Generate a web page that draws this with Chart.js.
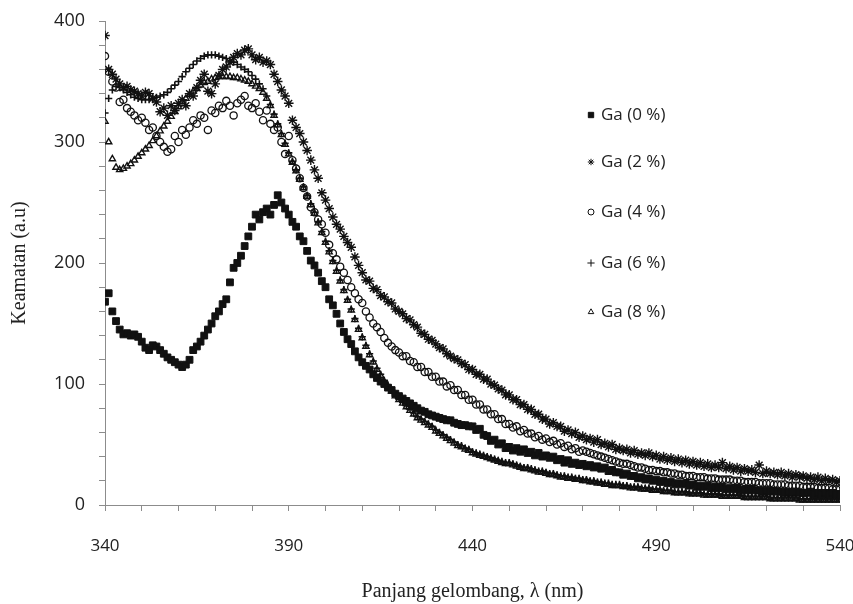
<!DOCTYPE html>
<html>
<head>
<meta charset="utf-8">
<title>Keamatan vs Panjang gelombang</title>
<script src="https://cdn.jsdelivr.net/npm/chart.js@4.4.1/dist/chart.umd.min.js"></script>
<style>
    html, body { margin: 0; padding: 0; background: #ffffff; }
    #wrap { width: 853px; height: 604px; }
</style>
</head>
<body>
<div id="wrap"><canvas id="spectrumChart" width="853" height="604"></canvas></div>
<script>
// wavelength grid (nm)
const wavelengths = [
    340,341,342,343,344,345,346,347,348,349,350,351,352,353,354,355,356,357,358,359,
    360,361,362,363,364,365,366,367,368,369,370,371,372,373,374,375,376,377,378,379,
    380,381,382,383,384,385,386,387,388,389,390,391,392,393,394,395,396,397,398,399,
    400,401,402,403,404,405,406,407,408,409,410,411,412,413,414,415,416,417,418,419,
    420,421,422,423,424,425,426,427,428,429,430,431,432,433,434,435,436,437,438,439,
    440,441,442,443,444,445,446,447,448,449,450,451,452,453,454,455,456,457,458,459,
    460,461,462,463,464,465,466,467,468,469,470,471,472,473,474,475,476,477,478,479,
    480,481,482,483,484,485,486,487,488,489,490,491,492,493,494,495,496,497,498,499,
    500,501,502,503,504,505,506,507,508,509,510,511,512,513,514,515,516,517,518,519,
    520,521,522,523,524,525,526,527,528,529,530,531,532,533,534,535,536,537,538,539,
    540
];

const ga0 = [
    168,175,160,152,145,141,142,140,141,139, 135,130,128,132,131,128,125,122,120,118,
    116,114,116,120,128,131,135,140,145,150, 156,160,166,170,184,196,200,206,214,222,
    230,240,236,242,245,240,248,256,250,245, 240,234,230,222,218,210,202,198,192,185,
    180,170,165,158,150,143,137,133,127,122, 118,115,112,108,105,102,100,97,95,92,
    90,88,86,84,82,80,78,77,75,74, 73,72,71,70,70,68,67,66,66,65,
    65,62,63,58,57,53,54,50,51,47, 48,45,47,44,46,43,44,41,43,40,
    41,39,40,37,38,35,37,34,35,33, 34,32,33,31,32,30,31,28,29,27,
    27,25,26,24,24,22,23,21,22,20, 21,19,20,18,19,17,18,17,18,16,
    17,15,16,15,16,14,15,14,15,13, 14,13,14,12,13,12,13,12,12,11,
    12,11,12,11,11,10,11,10,11,10, 10,10,11,9,10,9,10,9,10,9,
    9
];

const ga2 = [
    388,360,356,352,348,345,346,343,342,340, 338,341,340,336,333,325,328,322,330,326,
    332,335,330,340,338,345,351,356,342,340, 348,355,360,362,366,370,373,372,376,377,
    372,368,370,366,367,364,356,350,343,338, 332,318,312,307,300,293,285,277,270,258,
    252,245,238,232,228,222,217,213,205,198, 192,186,185,179,178,173,172,168,167,162,
    160,158,154,153,149,147,142,141,137,136, 133,130,129,125,123,121,120,117,116,112,
    112,108,108,104,104,100,99,96,95,91, 91,87,87,83,83,79,79,75,75,71,
    71,67,68,65,65,61,62,59,60,56, 57,54,55,52,54,50,51,48,50,46,
    47,45,46,43,45,42,43,41,43,40, 41,38,40,37,39,36,38,35,37,34,
    36,33,35,32,34,31,33,31,35,30, 32,29,31,28,30,28,29,27,33,26,
    28,26,27,25,27,24,26,23,25,23, 24,22,23,21,23,20,22,20,21,19,
    20
];

const ga4 = [
    371,358,350,345,333,335,328,325,322,318, 320,316,310,312,305,300,296,292,294,305,
    300,310,306,312,318,315,322,320,310,326, 324,330,328,334,330,322,332,335,338,330,
    328,332,325,318,326,315,310,312,300,290, 305,285,278,270,262,255,246,242,236,232,
    225,215,208,203,197,192,186,180,175,170, 167,160,155,150,147,143,138,134,131,128,
    126,123,123,119,118,114,114,110,110,106, 106,102,102,98,99,95,95,91,91,87,
    87,83,83,79,79,75,75,71,71,67, 67,64,65,61,62,59,59,56,57,54,
    55,52,53,50,51,48,49,46,47,44, 45,44,43,42,41,40,39,38,37,36,
    35,34,34,33,32,31,31,30,29,29, 28,28,27,27,26,26,25,25,24,24,
    24,23,23,23,22,22,22,21,21,21, 21,20,20,20,19,19,19,19,18,18,
    18,18,17,17,17,17,16,16,16,16, 15,15,15,15,14,14,14,14,13,13,
    13
];

const ga6 = [
    324,336,343,346,345,343,341,339,337,336, 335,335,335,336,337,338,339,341,344,347,
    350,354,358,361,364,367,369,371,372,372, 372,371,370,369,367,366,364,362,360,358,
    355,352,348,344,338,331,323,315,307,299, 291,284,277,270,263,256,249,242,234,226,
    218,210,202,194,186,178,170,162,154,146, 139,132,125,119,113,108,103,99,95,91,
    88,85,82,79,76,73,71,69,67,65, 62,60,58,56,54,52,50,49,47,46,
    44,43,42,41,40,39,38,37,36,35, 35,34,33,32,31,31,30,29,28,28,
    27,26,26,25,24,24,23,23,22,22, 21,21,20,20,19,19,18,18,17,17,
    17,16,16,15,15,15,14,14,14,13, 13,13,12,12,12,11,11,11,11,10,
    10,10,10,9,9,9,9,9,8,8, 8,8,8,8,7,7,7,7,7,7,
    7,6,6,6,6,6,6,6,6,5, 5,5,5,5,5,5,5,5,5,5,
    5
];

const ga8 = [
    317,300,286,279,277,278,280,282,285,288, 291,294,297,301,305,309,313,317,321,325,
    329,333,336,339,342,344,347,349,350,352, 353,354,354,354,354,353,353,352,351,350,
    348,346,344,341,336,330,322,314,306,298, 290,283,276,269,262,255,248,241,233,225,
    217,209,201,193,185,177,169,161,153,145, 138,131,124,118,112,107,102,98,94,90,
    87,84,81,78,75,72,70,68,66,64, 61,59,57,55,53,51,49,48,46,45,
    43,42,41,40,39,38,37,36,35,34, 34,33,32,31,30,30,29,28,27,27,
    26,25,25,24,23,23,22,22,21,21, 20,20,19,19,18,18,17,17,16,16,
    16,15,15,14,14,14,13,13,13,12, 12,12,11,11,11,10,10,10,10,9,
    9,9,9,8,8,8,8,8,7,7, 7,7,7,7,6,6,6,6,6,6,
    6,5,5,5,5,5,5,5,5,4, 4,4,4,4,4,4,4,4,4,4,
    4
];

const seriesLabels = ['Ga (0 %)', 'Ga (2 %)', 'Ga (4 %)', 'Ga (6 %)', 'Ga (8 %)'];
const seriesValues = [ga0, ga2, ga4, ga6, ga8];

const ink = '#111111';
const clear = 'rgba(0,0,0,0)';
const axisGray = '#8c8c8c';

function toPoints(values) {
    return values.map((v, i) => ({ x: wavelengths[i], y: v }));
}

const markerStyles = [
    { pointStyle: 'rect', radius: 4.8, fill: ink, width: 1 },
    { pointStyle: 'star', radius: 4.8, fill: clear, width: 1.4 },
    { pointStyle: 'circle', radius: 3.6, fill: clear, width: 1.3 },
    { pointStyle: 'cross', radius: 3.6, fill: clear, width: 1.6 },
    { pointStyle: 'triangle', radius: 3.6, fill: clear, width: 1.4 },
];

const datasets = seriesValues.map((values, i) => ({
    label: seriesLabels[i],
    data: toPoints(values),
    showLine: false,
    pointStyle: markerStyles[i].pointStyle,
    pointRadius: markerStyles[i].radius,
    pointBackgroundColor: markerStyles[i].fill,
    pointBorderColor: ink,
    pointBorderWidth: markerStyles[i].width,
}));

// legend drawn inside the plot, right of the curves
const sideLegend = {
    id: 'sideLegend',
    afterDraw(chart) {
        const ctx = chart.ctx;
        const rowsY = [115, 162, 212, 263, 312];
        const legendMarks = [
            { pointStyle: 'rect', radius: 3.8, fill: ink },
            { pointStyle: 'star', radius: 3.2, fill: clear },
            { pointStyle: 'circle', radius: 3, fill: clear },
            { pointStyle: 'cross', radius: 3.6, fill: clear },
            { pointStyle: 'triangle', radius: 3.2, fill: clear },
        ];
        ctx.save();
        ctx.font = '17px "Open Sans"';
        ctx.textBaseline = 'middle';
        ctx.textAlign = 'left';
        seriesLabels.forEach((label, i) => {
            const m = legendMarks[i];
            ctx.fillStyle = m.fill;
            ctx.strokeStyle = ink;
            ctx.lineWidth = 1;
            Chart.helpers.drawPoint(ctx, {
                pointStyle: m.pointStyle,
                radius: m.radius,
                rotation: 0,
                borderWidth: 1,
            }, 591, rowsY[i]);
            ctx.fillStyle = '#222222';
            ctx.fillText(label, 601, rowsY[i]);
        });
        ctx.restore();
    }
};

const ctx = document.getElementById('spectrumChart').getContext('2d');
new Chart(ctx, {
    type: 'scatter',
    data: { datasets: datasets },
    plugins: [sideLegend],
    options: {
        responsive: false,
        animation: false,
        devicePixelRatio: 1,
        layout: {
            padding: { top: 21, right: 13, bottom: 0, left: 0 }
        },
        plugins: {
            legend: { display: false },
            tooltip: { enabled: false },
        },
        scales: {
            x: {
                type: 'linear',
                min: 340,
                max: 540,
                border: { color: axisGray, width: 1 },
                grid: {
                    drawOnChartArea: false,
                    color: axisGray,
                    tickLength: 6,
                },
                ticks: {
                    stepSize: 10,
                    autoSkip: false,
                    maxRotation: 0,
                    padding: 25,
                    color: '#222222',
                    font: { family: '"Open Sans"', size: 17 },
                    callback: (v) => ((v - 340) % 50 === 0 ? String(v) : ''),
                },
                title: {
                    display: true,
                    text: 'Panjang gelombang, λ (nm)',
                    color: '#222222',
                    font: { family: '"Liberation Serif"', size: 20 },
                    padding: { top: 0, bottom: 0 },
                },
                afterFit(scale) {
                    scale.height = 99;
                    scale.paddingLeft = 0;
                    scale.paddingRight = 0;
                },
            },
            y: {
                min: 0,
                max: 400,
                border: { color: axisGray, width: 1 },
                grid: {
                    drawOnChartArea: false,
                    color: axisGray,
                    tickLength: 6,
                },
                ticks: {
                    stepSize: 20,
                    autoSkip: false,
                    padding: 14,
                    color: '#222222',
                    font: { family: '"Open Sans"', size: 18 },
                    callback: (v) => (v % 100 === 0 ? String(v) : ''),
                },
                title: {
                    display: true,
                    text: 'Keamatan (a.u)',
                    color: '#222222',
                    font: { family: '"Liberation Serif"', size: 20 },
                    padding: { top: 8, bottom: 0 },
                },
                afterFit(scale) {
                    scale.width = 105;
                    scale.paddingTop = 0;
                    scale.paddingBottom = 0;
                },
            },
        },
    },
});
</script>
</body>
</html>
